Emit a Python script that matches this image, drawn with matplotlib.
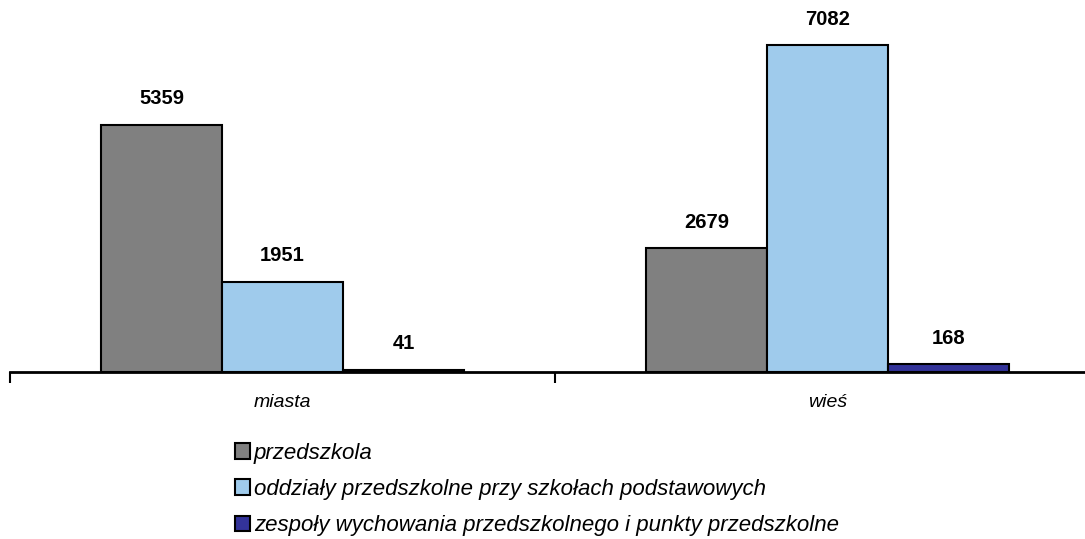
import matplotlib
matplotlib.use("Agg")
import matplotlib.pyplot as plt
import numpy as np

# dane
kategorie = ["miasta", "wieś"]
serie = [
    "przedszkola",
    "oddziały przedszkolne przy szkołach podstawowych",
    "zespoły wychowania przedszkolnego i punkty przedszkolne",
]
przedszkola = [5359, 2679]
oddzialy = [1951, 7082]
zespoly = [41, 168]
kolory = ["#808080", "#9fcbec", "#333399"]

plt.rcParams["font.family"] = ["Liberation Sans", "DejaVu Sans"]

fig = plt.figure(figsize=(10.85, 5.39), dpi=100)
W, H = 1085, 539
# osie wychodzą poza prawą krawędź, jak w oryginale
ax = fig.add_axes([10 / W, (H - 372) / H, 1090 / W, 369 / H])

x = np.arange(len(kategorie))
szer = 0.222
wartosci = [przedszkola, oddzialy, zespoly]
for i, (vals, kol, nazwa) in enumerate(zip(wartosci, kolory, serie)):
    pos = x + (i - 1) * szer
    bars = ax.bar(pos, vals, width=szer, color=kol, edgecolor="black",
                  linewidth=1.5, label=nazwa)
    for b, v in zip(bars, vals):
        ax.annotate(str(v), (b.get_x() + b.get_width() / 2, v),
                    xytext=(0, 12), textcoords="offset points",
                    ha="center", va="bottom", fontsize=14.5, fontweight="bold")

ax.set_xlim(-0.5, 1.5)
ax.set_ylim(0, 8000)
for s in ["top", "right", "left"]:
    ax.spines[s].set_visible(False)
ax.spines["bottom"].set_linewidth(2)
ax.set_yticks([])

# znaczniki na granicach kategorii, podpisy na środku
ax.set_xticks([-0.5, 0.5, 1.5])
ax.set_xticklabels([])
ax.tick_params(axis="x", which="major", direction="out", length=8, width=1.5)
ax.set_xticks(x, minor=True)
ax.set_xticklabels(kategorie, minor=True, fontsize=14, style="italic")
ax.tick_params(axis="x", which="minor", length=0, pad=16)

fig.legend(loc="upper left", bbox_to_anchor=(226 / W, 1 - 434 / H),
           frameon=False, handlelength=0.7, handleheight=0.7,
           handletextpad=0.15, labelspacing=0.68, borderaxespad=0,
           prop={"style": "italic", "size": 16})

fig.savefig("out.png", dpi=100)
